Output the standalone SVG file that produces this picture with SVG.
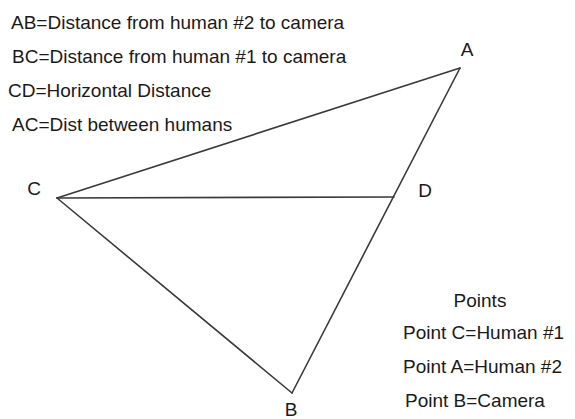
<svg xmlns="http://www.w3.org/2000/svg" width="575" height="419" viewBox="0 0 575 419">
<style>
text{font-family:"Liberation Sans",Arial,sans-serif;fill:#1a1a1a;font-size:19px}
.lbl{font-size:19px;text-anchor:middle}
.edge{stroke:#3a3a3a;stroke-width:1.6;fill:none;stroke-linecap:round}
</style>
<rect width="575" height="419" fill="#fff"/>
<g id="legend">
<text x="11" y="29">AB=Distance from human #2 to camera</text>
<text x="12" y="63">BC=Distance from human #1 to camera</text>
<text x="8" y="97">CD=Horizontal Distance</text>
<text x="12" y="131">AC=Dist between humans</text>
</g>
<g id="edges">
<line class="edge" x1="57" y1="198" x2="460" y2="68"/>
<line class="edge" x1="460" y1="68" x2="292" y2="393"/>
<line class="edge" x1="57" y1="198" x2="292" y2="393"/>
<line class="edge" x1="57" y1="198" x2="394" y2="197"/>
</g>
<g id="node-A"><text class="lbl" x="467" y="56">A</text></g>
<g id="node-C"><text class="lbl" x="34" y="195">C</text></g>
<g id="node-D"><text class="lbl" x="425" y="197">D</text></g>
<g id="node-B"><text class="lbl" x="291" y="416">B</text></g>
<g id="points">
<text x="480" y="307" text-anchor="middle">Points</text>
<text x="403" y="339">Point C=Human #1</text>
<text x="403" y="373">Point A=Human #2</text>
<text x="405" y="407">Point B=Camera</text>
</g>
</svg>
